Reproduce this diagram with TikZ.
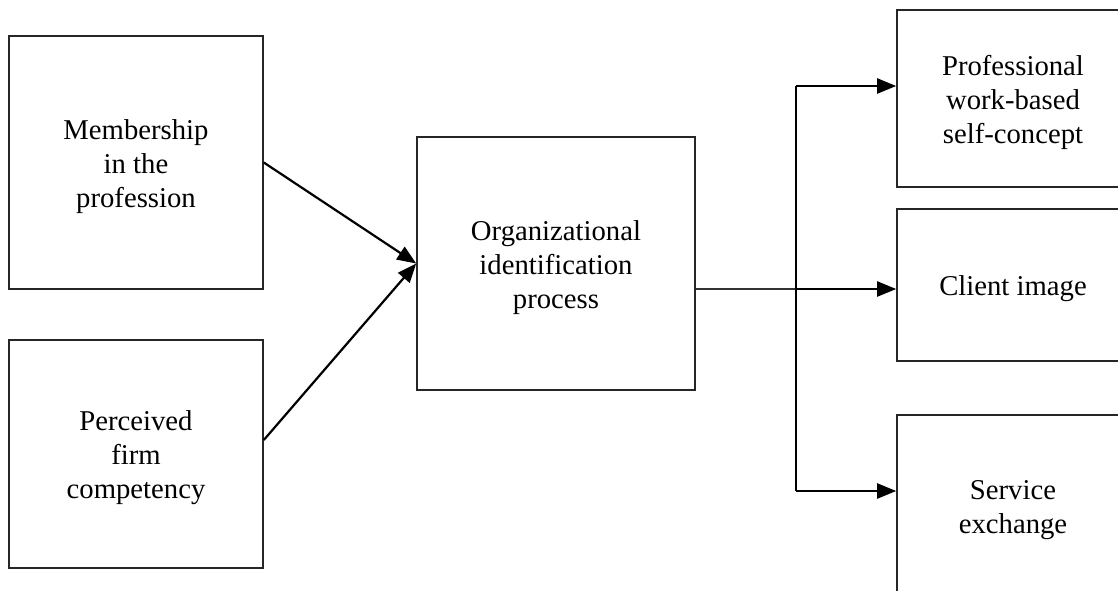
\documentclass[tikz,border=0pt]{standalone}
\usepackage{fontspec}
\setmainfont{Liberation Serif}
\usetikzlibrary{arrows.meta}
\newcommand{\boxtext}[1]{\raisebox{-4pt}[\height][\depth]{\begin{tabular}{@{}c@{}}#1\end{tabular}}}
\begin{document}
\begin{tikzpicture}[x=1pt,y=-1pt,
  box/.style={draw=black!85, line width=1.6pt, rectangle, inner sep=0pt,
    font=\fontsize{28.7}{34}\selectfont},
  arr/.style={draw=black, line width=2.2pt, -{Triangle[length=19pt,width=15pt]}},
  conn/.style={draw=black, line width=2pt},
  thinconn/.style={draw=black!80, line width=1.1pt}]
\path[use as bounding box, clip] (0,0) rectangle (1118,590);
\fill[white] (0,0) rectangle (1118,590);
\node[box, minimum width=254pt, minimum height=253pt] (A) at (136,162.5) {\boxtext{Membership\\in the\\profession}};
\node[box, minimum width=254pt, minimum height=228pt] (B) at (136,454) {\boxtext{Perceived\\firm\\competency}};
\node[box, minimum width=278pt, minimum height=253pt] (C) at (556,263.5) {\boxtext{Organizational\\identification\\process}};
\node[box, minimum width=232pt, minimum height=177pt] (R1) at (1013,98.5) {\boxtext{Professional\\work-based\\self-concept}};
\node[box, minimum width=232pt, minimum height=152pt] (R2) at (1013,285) {\boxtext{Client image}};
\node[box, minimum width=232pt, minimum height=182pt] (R3) at (1013,506) {\boxtext{Service\\exchange}};
\draw[arr] (A.east) -- (C.west);
\draw[arr] ([yshift=14pt]B.east) -- (C.west);
\coordinate (j1) at (796,86);
\coordinate (j2) at (796,289);
\coordinate (j3) at (796,491);
\draw[thinconn] (C.east |- j2) -- (j2);
\draw[conn] (j1) -- (j3);
\draw[arr] (j1) -- (R1.west |- j1);
\draw[arr] (j2) -- (R2.west |- j2);
\draw[arr] (j3) -- (R3.west |- j3);
\end{tikzpicture}
\end{document}
